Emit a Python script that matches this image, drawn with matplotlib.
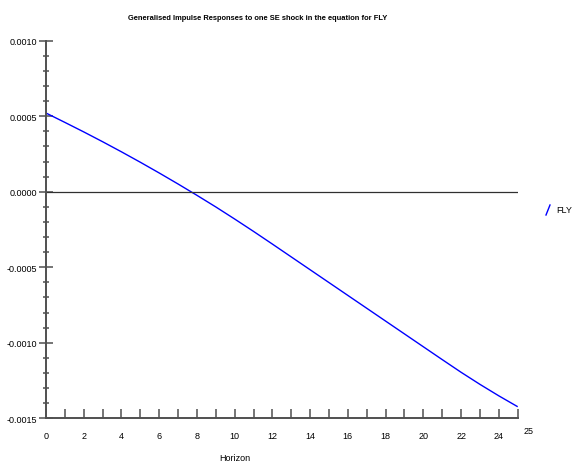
import matplotlib
matplotlib.use("Agg")
import matplotlib.pyplot as plt
from matplotlib.lines import Line2D
from matplotlib.ticker import MultipleLocator, FormatStrFormatter

# Generalised impulse responses
horizon = list(range(0, 26))
fly = [0.000521, 0.000459, 0.000396, 0.000331, 0.000264, 0.000195,
       0.000124, 0.000051, -0.000024, -0.000101, -0.000181, -0.000263,
       -0.000347, -0.000432, -0.000517, -0.000602, -0.000687, -0.000772,
       -0.000857, -0.000942, -0.001027, -0.001112, -0.001196, -0.001276,
       -0.001352, -0.001424]

TITLE = "Generalised Impulse Responses to one SE shock in the equation for FLY"
SERIES = "FLY"
XLABEL = "Horizon"
YMIN, YMAX = -0.0015, 0.0010
XMIN, XMAX = 0, 25

FONT = ["Liberation Sans Narrow", "Liberation Sans", "DejaVu Sans"]
plt.rcParams["font.family"] = FONT
plt.rcParams["axes.unicode_minus"] = False

AXCOL = "#505050"

fig = plt.figure(figsize=(5.76, 4.64), dpi=100)
ax = fig.add_axes([46 / 576, 1 - 419.2 / 464, 471.7 / 576, 377.5 / 464])

ax.plot(horizon, fly, color="#0000ff", linewidth=1.0, solid_capstyle="butt")
ax.axhline(0, color="#303030", linewidth=0.9)

ax.set_xlim(XMIN, XMAX)
ax.set_ylim(YMIN, YMAX)

for side in ("top", "right"):
    ax.spines[side].set_visible(False)
for side in ("left", "bottom"):
    ax.spines[side].set_color(AXCOL)
    ax.spines[side].set_linewidth(1.4)

# y axis: major every 0.0005, minor every 0.0001, crossing ticks
ax.yaxis.set_major_locator(MultipleLocator(0.0005))
ax.yaxis.set_minor_locator(MultipleLocator(0.0001))
ax.yaxis.set_major_formatter(FormatStrFormatter("%.4f"))
ax.tick_params(axis="y", which="major", direction="inout", length=9.5,
               width=1.1, color=AXCOL, labelsize=6.5, pad=2)
ax.tick_params(axis="y", which="minor", direction="inout", length=5,
               width=1.1, color=AXCOL)

# x axis: a tick at every step, labels on even steps
ax.set_xticks(horizon)
ax.set_xticklabels([str(h) if (h % 2 == 0 and h < XMAX) else "" for h in horizon])
ax.tick_params(axis="x", which="major", direction="in", length=6.5,
               width=1.1, color=AXCOL, labelsize=6.5, pad=9.5)

ax.text(XMAX + 0.6, YMIN - 0.00005, str(XMAX), fontsize=6.5, ha="center",
        va="top", transform=ax.transData, clip_on=False)

fig.text(258 / 576, 1 - 18.6 / 464, TITLE, ha="center", va="center",
         fontsize=5.4, fontweight="bold")
fig.text(235 / 576, 1 - 459 / 464, XLABEL, ha="center", va="center",
         fontsize=6.5)

# legend key
fig.add_artist(Line2D([546 / 576, 550 / 576], [1 - 216 / 464, 1 - 206 / 464],
                      color="#0000ff", linewidth=1.0))
fig.text(556 / 576, 1 - 211 / 464, SERIES, ha="left", va="center", fontsize=6.5)

fig.savefig("out.png", dpi=100)
